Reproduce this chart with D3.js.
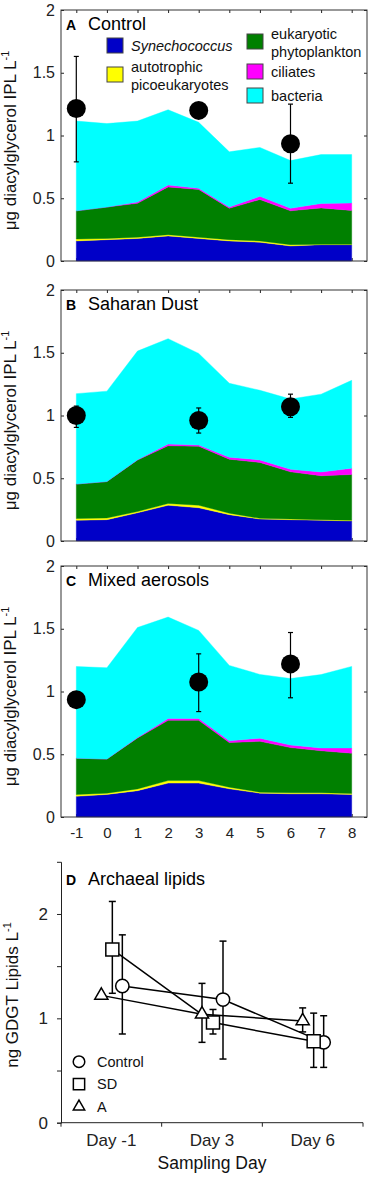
<!DOCTYPE html>
<html>
<head>
<meta charset="utf-8">
<script src="https://cdn.jsdelivr.net/npm/d3@7"></script>
<style>
    body { margin: 0; background: #fff; }
    svg { display: block; font-family: "Liberation Sans", Arial, sans-serif; }
</style>
</head>
<body>
<svg id="chart" width="371" height="1178"></svg>
<script>
// sampling days of the stacked panels
const days = [-1, 0, 1, 2, 3, 4, 5, 6, 7, 8];
const iplDays = [-1, 3, 6];
const yTicks = [0, 0.5, 1, 1.5, 2];

// A - control
const synA  = [0.16, 0.17, 0.18, 0.20, 0.18, 0.16, 0.15, 0.12, 0.13, 0.13];
const picoA = [0.015, 0.01, 0.01, 0.01, 0.01, 0.01, 0.01, 0.01, 0.003, 0.003];
const eukA  = [0.225, 0.25, 0.27, 0.38, 0.38, 0.25, 0.33, 0.27, 0.29, 0.27];
const cilA  = [0, 0, 0.01, 0.015, 0.01, 0.01, 0.025, 0.02, 0.035, 0.06];
const bacA  = [0.715, 0.665, 0.645, 0.60, 0.525, 0.44, 0.39, 0.38, 0.39, 0.385];
const iplA   = [1.215, 1.2, 0.935];
const iplAhi = [1.63, 1.21, 1.25];
const iplAlo = [0.79, 1.19, 0.62];

// B - saharan dust
const synB  = [0.165, 0.17, 0.225, 0.285, 0.265, 0.21, 0.175, 0.17, 0.165, 0.16];
const picoB = [0.014, 0.014, 0.01, 0.014, 0.02, 0.012, 0.006, 0.006, 0.005, 0.005];
const eukB  = [0.275, 0.29, 0.41, 0.46, 0.47, 0.43, 0.445, 0.375, 0.35, 0.365];
const cilB  = [0, 0, 0.003, 0.013, 0.01, 0.015, 0.02, 0.02, 0.03, 0.05];
const bacB  = [0.72, 0.72, 0.865, 0.84, 0.73, 0.59, 0.555, 0.56, 0.62, 0.70];
const iplB   = [1.0, 0.96, 1.07];
const iplBhi = [1.075, 1.06, 1.17];
const iplBlo = [0.905, 0.86, 0.985];

// C - mixed aerosols
const synC  = [0.165, 0.18, 0.21, 0.27, 0.27, 0.225, 0.19, 0.185, 0.185, 0.18];
const picoC = [0.014, 0.01, 0.014, 0.02, 0.02, 0.013, 0.008, 0.008, 0.008, 0.008];
const eukC  = [0.29, 0.272, 0.405, 0.48, 0.48, 0.355, 0.405, 0.36, 0.335, 0.32];
const cilC  = [0, 0, 0.005, 0.015, 0.015, 0.015, 0.025, 0.02, 0.022, 0.042];
const bacC  = [0.73, 0.727, 0.876, 0.808, 0.702, 0.6, 0.508, 0.53, 0.585, 0.65];
const iplC   = [0.935, 1.075, 1.22];
const iplChi = [0.96, 1.3, 1.47];
const iplClo = [0.91, 0.84, 0.95];

// D - archaeal lipids
const dayLabels = ['Day -1', 'Day 3', 'Day 6'];
const ctrlD   = [1.31, 1.18, 0.77];
const ctrlDhi = [1.80, 1.74, 1.025];
const ctrlDlo = [0.85, 0.61, 0.53];
const sdD     = [1.66, 0.96, 0.78];
const sdDhi   = [2.12, 1.085, 1.05];
const sdDlo   = [1.24, 0.85, 0.53];
const aD      = [1.22, 1.04, 0.975];
const aDhi    = [1.23, 1.335, 1.10];
const aDlo    = [1.21, 0.77, 0.87];

const layerKeys = ['syn', 'pico', 'euk', 'cil', 'bac'];
const layerColors = ['#0000c8', '#ffff00', '#008000', '#ff00ff', '#00ffff'];
const legendLines = [['Synechococcus'], ['autotrophic', 'picoeukaryotes'],
    ['eukaryotic', 'phytoplankton'], ['ciliates'], ['bacteria']];

const svg = d3.select('#chart');
const left = 61, right = 367;
const x = d3.scaleLinear().domain([-1.5, 8.5]).range([left, right]);

function yLabel(cx, cy, main) {
    const t = svg.append('text')
        .attr('transform', `translate(${cx},${cy}) rotate(-90)`)
        .attr('text-anchor', 'middle')
        .attr('font-size', 17)
        .attr('fill', '#111');
    t.append('tspan').text(main);
    t.append('tspan').attr('dy', -7).attr('font-size', 11).text('-1');
}

function panelTitle(px, py, letter, name) {
    svg.append('text').attr('x', px).attr('y', py)
        .attr('font-size', 14).attr('font-weight', 'bold').text(letter);
    svg.append('text').attr('x', px + 22).attr('y', py)
        .attr('font-size', 18).text(name);
}

function styleAxis(g, size) {
    g.attr('font-family', null).attr('font-size', size).attr('color', '#222');
    g.select('.domain').remove();
}

function drawStack(p) {
    const y = d3.scaleLinear().domain([0, 2]).range([p.bottom, p.top]);
    const g = svg.append('g');

    g.append('g').attr('transform', `translate(${left},0)`)
        .call(d3.axisLeft(y).tickValues(yTicks).tickFormat(d => String(d))
            .tickSizeInner(-3).tickSizeOuter(0).tickPadding(6))
        .call(a => styleAxis(a, 16));
    g.append('g').attr('transform', `translate(${right},0)`)
        .call(d3.axisRight(y).tickValues(yTicks).tickFormat('').tickSizeInner(-3).tickSizeOuter(0))
        .call(a => styleAxis(a, 16));
    g.append('g').attr('transform', `translate(0,${p.top})`)
        .call(d3.axisTop(x).tickValues(days).tickFormat('').tickSizeInner(-3).tickSizeOuter(0))
        .call(a => styleAxis(a, 15));
    g.append('g').attr('transform', `translate(0,${p.bottom})`)
        .call(d3.axisBottom(x).tickValues(days).tickFormat(p.xLabels ? d => String(d) : '')
            .tickSizeInner(-3).tickSizeOuter(0).tickPadding(10))
        .call(a => styleAxis(a, 15));

    const rows = days.map((d, i) => ({
        day: d, syn: p.syn[i], pico: p.pico[i], euk: p.euk[i], cil: p.cil[i], bac: p.bac[i]
    }));
    const series = d3.stack().keys(layerKeys)(rows);
    const area = d3.area()
        .x(d => x(d.data.day))
        .y0(d => y(d[0]))
        .y1(d => y(d[1]));
    g.selectAll('path.layer').data(series).join('path')
        .attr('class', 'layer')
        .attr('fill', (d, i) => layerColors[i])
        .attr('stroke', (d, i) => layerColors[i])
        .attr('stroke-width', 0.4)
        .attr('d', area);

    g.append('rect')
        .attr('x', left).attr('y', p.top)
        .attr('width', right - left).attr('height', p.bottom - p.top)
        .attr('fill', 'none').attr('stroke', '#333').attr('stroke-width', 1);

    const pts = iplDays.map((d, i) => ({ day: d, v: p.ipl[i], hi: p.hi[i], lo: p.lo[i] }));
    const eb = g.selectAll('g.eb').data(pts).join('g').attr('class', 'eb')
        .attr('stroke', '#000').attr('stroke-width', 1.2);
    eb.append('line').attr('x1', d => x(d.day)).attr('x2', d => x(d.day))
        .attr('y1', d => y(d.hi)).attr('y2', d => y(d.lo));
    eb.append('line').attr('x1', d => x(d.day) - 2.5).attr('x2', d => x(d.day) + 2.5)
        .attr('y1', d => y(d.hi)).attr('y2', d => y(d.hi));
    eb.append('line').attr('x1', d => x(d.day) - 2.5).attr('x2', d => x(d.day) + 2.5)
        .attr('y1', d => y(d.lo)).attr('y2', d => y(d.lo));
    g.selectAll('circle.ipl').data(pts).join('circle')
        .attr('class', 'ipl')
        .attr('cx', d => x(d.day)).attr('cy', d => y(d.v)).attr('r', 9.5)
        .attr('fill', '#000');

    panelTitle(66, p.top + 20, p.letter, p.name);
    yLabel(16, (p.top + p.bottom) / 2 + 5, 'μg diacylglycerol IPL L');
}

drawStack({ top: 10, bottom: 261, letter: 'A', name: 'Control',
    syn: synA, pico: picoA, euk: eukA, cil: cilA, bac: bacA, ipl: iplA, hi: iplAhi, lo: iplAlo });
drawStack({ top: 290, bottom: 541, letter: 'B', name: 'Saharan Dust',
    syn: synB, pico: picoB, euk: eukB, cil: cilB, bac: bacB, ipl: iplB, hi: iplBhi, lo: iplBlo });
drawStack({ top: 566, bottom: 817, letter: 'C', name: 'Mixed aerosols', xLabels: true,
    syn: synC, pico: picoC, euk: eukC, cil: cilC, bac: bacC, ipl: iplC, hi: iplChi, lo: iplClo });

// legend of panel A
const legendPos = [[107, 38], [107, 67], [247, 34], [247, 64], [247, 88]];
legendLines.forEach((lines, i) => {
    const [lx, ly] = legendPos[i];
    svg.append('rect').attr('x', lx).attr('y', ly).attr('width', 16).attr('height', 15)
        .attr('fill', layerColors[i]).attr('stroke', '#444').attr('stroke-width', 1);
    const t = svg.append('text').attr('x', lx + 24).attr('font-size', 14.5).attr('fill', '#111')
        .attr('font-style', i === 0 ? 'italic' : null);
    const firstBase = lines.length > 1 ? ly + 5 : ly + 13;
    lines.forEach((s, j) => {
        t.append('tspan').attr('x', lx + 24).attr('y', firstBase + j * 17.5).text(s);
    });
});

// panel D
const xD = d3.scaleBand().domain(dayLabels).range([61, 363]);
const yD = d3.scaleLinear().domain([0, 2.5]).range([1122.7, 861.8]);
const gD = svg.append('g');

gD.append('g').attr('transform', 'translate(61,0)')
    .call(d3.axisLeft(yD).tickValues([0, 0.5, 1, 1.5, 2]).tickFormat(d => Number.isInteger(d) ? d : '')
        .tickSize(4).tickPadding(9))
    .call(a => a.attr('font-family', null).attr('font-size', 17).attr('color', '#222'));
gD.append('g').attr('transform', 'translate(0,1122.7)')
    .call(d3.axisBottom(xD).tickSize(0).tickPadding(11))
    .call(a => a.attr('font-family', null).attr('font-size', 17).attr('color', '#222'))
    .call(a => a.select('.domain').attr('d', `M61,0H363`));
gD.selectAll('line.bt').data(d3.range(dayLabels.length + 1)).join('line')
    .attr('class', 'bt')
    .attr('x1', i => xD.range()[0] + i * xD.step()).attr('x2', i => xD.range()[0] + i * xD.step())
    .attr('y1', 1122.7).attr('y2', 1126.7)
    .attr('stroke', '#222');

const seriesD = [
    { key: 'Control', v: ctrlD, hi: ctrlDhi, lo: ctrlDlo, off: 11, sym: d3.symbolCircle, size: 140 },
    { key: 'SD', v: sdD, hi: sdDhi, lo: sdDlo, off: 1, sym: d3.symbolSquare, size: 170 },
    { key: 'A', v: aD, hi: aDhi, lo: aDlo, off: -10, sym: d3.symbolTriangle, size: 75 }
];
const px = (s, i) => xD(dayLabels[i]) + xD.bandwidth() / 2 + s.off;

const lineD = d3.line();
seriesD.forEach(s => {
    gD.append('path')
        .attr('d', lineD(s.v.map((v, i) => [px(s, i), yD(v)])))
        .attr('fill', 'none').attr('stroke', '#000').attr('stroke-width', 1.5);
});
seriesD.forEach(s => {
    s.v.forEach((v, i) => {
        const cx = px(s, i);
        const eg = gD.append('g').attr('stroke', '#000').attr('stroke-width', 1.5);
        eg.append('line').attr('x1', cx).attr('x2', cx).attr('y1', yD(s.hi[i])).attr('y2', yD(s.lo[i]));
        eg.append('line').attr('x1', cx - 3.5).attr('x2', cx + 3.5).attr('y1', yD(s.hi[i])).attr('y2', yD(s.hi[i]));
        eg.append('line').attr('x1', cx - 3.5).attr('x2', cx + 3.5).attr('y1', yD(s.lo[i])).attr('y2', yD(s.lo[i]));
    });
});
seriesD.forEach(s => {
    s.v.forEach((v, i) => {
        gD.append('path')
            .attr('transform', `translate(${px(s, i)},${yD(v)})`)
            .attr('d', d3.symbol().type(s.sym).size(s.size)())
            .attr('fill', '#fff').attr('stroke', '#000').attr('stroke-width', 1.5);
    });
});

// legend of panel D
seriesD.forEach((s, i) => {
    const ly = 1061.7 + i * 22.5;
    gD.append('path')
        .attr('transform', `translate(79,${ly})`)
        .attr('d', d3.symbol().type(s.sym).size(s.size * 0.75)())
        .attr('fill', '#fff').attr('stroke', '#000').attr('stroke-width', 1.5);
    gD.append('text').attr('x', 97).attr('y', ly).attr('dy', '0.35em')
        .attr('font-size', 14.5).attr('fill', '#111').text(s.key);
});

panelTitle(66, 885, 'D', 'Archaeal lipids');
yLabel(18, 995, 'ng GDGT Lipids L');

svg.append('text').attr('x', 212).attr('y', 1169)
    .attr('text-anchor', 'middle').attr('font-size', 17.5).attr('fill', '#111')
    .text('Sampling Day');
</script>
</body>
</html>
